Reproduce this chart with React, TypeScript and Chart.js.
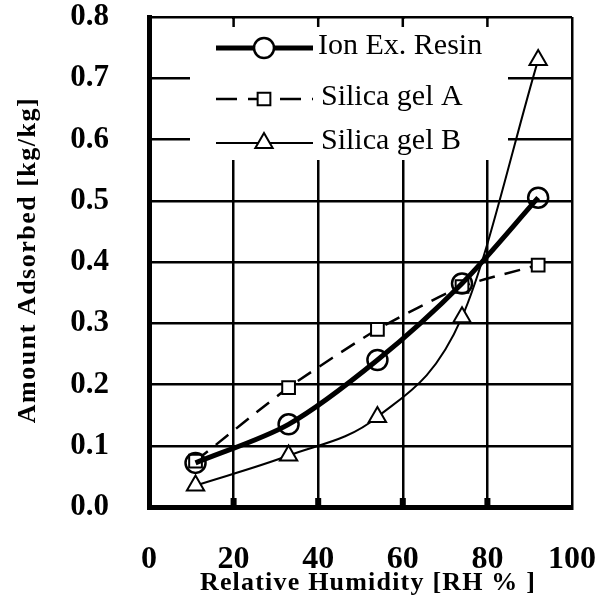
import { useEffect, useRef } from 'react';
import { Chart, registerables } from 'chart.js';

Chart.register(...registerables);

// ---- data ----
const relativeHumidity = [11, 33, 54, 74, 92];
const ionExResin = [0.072, 0.135, 0.24, 0.365, 0.505];
const silicaGelA = [0.075, 0.195, 0.29, 0.36, 0.395];
const silicaGelB = [0.035, 0.084, 0.147, 0.31, 0.73];
const seriesLabels = ['Ion Ex. Resin', 'Silica gel A', 'Silica gel B'];
const xTitle = 'Relative Humidity [RH % ]';
const yTitle = 'Amount Adsorbed [kg/kg]';
const topTickValues = [20, 40, 60, 80];

const SERIF = '"Liberation Serif", "Times New Roman", serif';

type Style = { point: string; radius: number; width: number; dash: number[]; fill: string; markerWidth: number };
const styles: Style[] = [
  { point: 'circle', radius: 10, width: 5, dash: [], fill: 'rgba(0,0,0,0)', markerWidth: 2.5 },
  { point: 'rect', radius: 9, width: 2.5, dash: [16, 10], fill: '#ffffff', markerWidth: 2 },
  { point: 'triangle', radius: 10, width: 2, dash: [], fill: '#ffffff', markerWidth: 2 },
];

function drawMarker(ctx: CanvasRenderingContext2D, s: Style, x: number, y: number) {
  ctx.save();
  ctx.setLineDash([]);
  ctx.lineWidth = s.markerWidth;
  ctx.strokeStyle = '#000';
  ctx.fillStyle = s.fill === 'rgba(0,0,0,0)' ? '#fff' : s.fill;
  ctx.beginPath();
  if (s.point === 'circle') {
    ctx.arc(x, y, s.radius, 0, Math.PI * 2);
  } else if (s.point === 'rect') {
    const h = s.radius * Math.SQRT1_2;
    ctx.rect(x - h, y - h, 2 * h, 2 * h);
  } else {
    const r = s.radius;
    let a = 0;
    ctx.moveTo(x + Math.sin(a) * r, y - Math.cos(a) * r);
    a += (2 * Math.PI) / 3;
    ctx.lineTo(x + Math.sin(a) * r, y - Math.cos(a) * r);
    a += (2 * Math.PI) / 3;
    ctx.lineTo(x + Math.sin(a) * r, y - Math.cos(a) * r);
    ctx.closePath();
  }
  ctx.fill();
  ctx.stroke();
  ctx.restore();
}

const decorPlugin = {
  id: 'decor',
  beforeDatasetsDraw(chart: any) {
    const { ctx, chartArea: a, scales } = chart;
    ctx.save();
    // legend background box (breaks the grid lines)
    ctx.fillStyle = '#ffffff';
    ctx.fillRect(190, a.top + 2, 318, 160 - a.top - 2);
    ctx.fillStyle = '#000000';
    for (const v of topTickValues) {
      const px = scales.x.getPixelForValue(v);
      ctx.fillRect(px - 1.25, a.top, 2.5, 10);
      ctx.fillRect(px - 3, a.bottom - 9, 6, 9);
    }
    ctx.restore();
  },
  afterDraw(chart: any) {
    const { ctx } = chart;
    ctx.save();
    // legend
    const lineY = [48, 99, 143];
    const textY = [46, 97, 141];
    const textX = [318, 321, 321];
    seriesLabels.forEach((label, i) => {
      const s = styles[i];
      ctx.save();
      ctx.strokeStyle = '#000';
      ctx.lineWidth = s.width;
      ctx.setLineDash(s.dash.length ? [21, 11] : []);
      ctx.lineCap = 'butt';
      ctx.beginPath();
      ctx.moveTo(216, lineY[i]);
      ctx.lineTo(313, lineY[i]);
      ctx.stroke();
      ctx.restore();
      drawMarker(ctx, s, 264, lineY[i]);
      ctx.fillStyle = '#000';
      ctx.font = `30px ${SERIF}`;
      ctx.textAlign = 'left';
      ctx.textBaseline = 'middle';
      ctx.fillText(label, textX[i], textY[i]);
    });
    // axis titles
    ctx.fillStyle = '#000';
    ctx.font = `bold 26px ${SERIF}`;
    (ctx as any).letterSpacing = '1.2px';
    ctx.textAlign = 'center';
    ctx.textBaseline = 'middle';
    ctx.fillText(xTitle, 368, 583);
    ctx.translate(28, 260);
    ctx.rotate(-Math.PI / 2);
    (ctx as any).letterSpacing = '1.5px';
    ctx.fillText(yTitle, 0, 0);
    ctx.restore();
  },
};

export default function App() {
  const ref = useRef<HTMLCanvasElement>(null);
  useEffect(() => {
    if (!ref.current) return;
    const seriesValues = [ionExResin, silicaGelA, silicaGelB];
    const tensions = [0.3, 0.2, 0.4];
    const chart = new Chart(ref.current, {
      type: 'line',
      data: {
        datasets: seriesValues.map((vals, i) => ({
          label: seriesLabels[i],
          data: relativeHumidity.map((x, j) => ({ x, y: vals[j] })),
          borderColor: '#000',
          borderWidth: styles[i].width,
          borderDash: styles[i].dash,
          tension: tensions[i],
          cubicInterpolationMode: i === 2 ? 'monotone' : 'default',
          pointStyle: styles[i].point,
          pointRadius: styles[i].radius,
          pointBorderWidth: styles[i].markerWidth,
          pointBorderColor: '#000',
          pointBackgroundColor: styles[i].fill,
          fill: false,
        })) as any,
      },
      options: {
        responsive: false,
        animation: false,
        layout: { padding: { top: 17, right: 36, left: 0, bottom: 0 } },
        plugins: { legend: { display: false }, tooltip: { enabled: false } },
        scales: {
          x: {
            type: 'linear',
            min: 0,
            max: 100,
            afterFit: (s: any) => {
              s.height = 99;
              s.paddingLeft = 0;
              s.paddingRight = 0;
              s.paddingTop = 0;
              s.paddingBottom = 0;
            },
            ticks: {
              stepSize: 20,
              color: '#000',
              padding: 34,
              font: { family: SERIF, size: 32, weight: 'bold' },
              maxRotation: 0,
            },
            grid: { color: '#000', lineWidth: 2.5, drawTicks: false },
            border: { display: true, color: '#000', width: 5 },
          },
          y: {
            type: 'linear',
            min: 0,
            max: 0.8,
            afterFit: (s: any) => {
              s.width = 149;
              s.paddingLeft = 0;
              s.paddingRight = 0;
              s.paddingTop = 0;
              s.paddingBottom = 0;
            },
            ticks: {
              stepSize: 0.1,
              color: '#000',
              padding: 40,
              font: { family: SERIF, size: 31, weight: 'bold' },
              callback: (v: any) => Number(v).toFixed(1),
            },
            grid: { color: '#000', lineWidth: 2.5, drawTicks: false },
            border: { display: true, color: '#000', width: 5 },
          },
        },
      } as any,
      plugins: [decorPlugin],
    });
    return () => chart.destroy();
  }, []);
  return (
    <div style={{ position: 'absolute', left: 0, top: 0, width: 608, height: 606, background: '#fff' }}>
      <canvas ref={ref} width={608} height={606} />
    </div>
  );
}
